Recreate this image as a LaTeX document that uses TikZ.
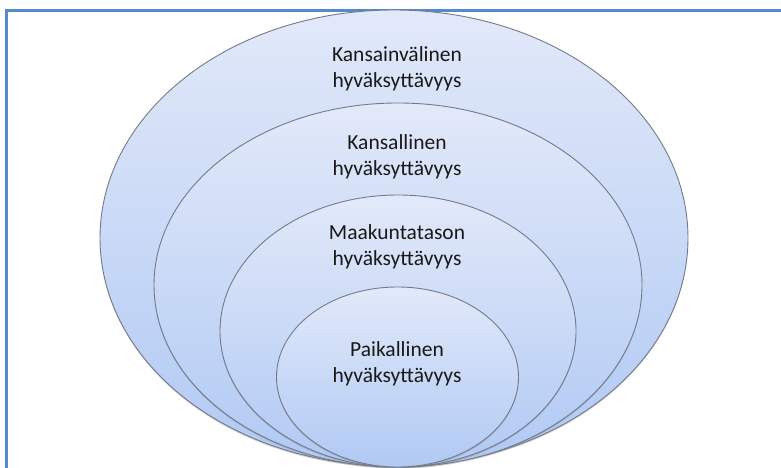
\documentclass[tikz,border=0pt]{standalone}
\usepackage{fontspec}
\setmainfont{Carlito}
\usetikzlibrary{shadows}
\definecolor{framec}{RGB}{84,138,210}
\definecolor{edgec}{RGB}{115,123,138}
\definecolor{topc}{RGB}{226,233,249}
\definecolor{botc}{RGB}{176,201,244}
\begin{document}
\begin{tikzpicture}[x=1pt,y=-1pt,
  ring/.style={draw=edgec, line width=0.9pt, top color=topc, bottom color=botc,
    drop shadow={shadow xshift=0pt, shadow yshift=-1.5pt, opacity=0.35}},
  lbl/.style={align=center, font=\fontsize{21.5}{26.5}\selectfont, text=black!90}]
\useasboundingbox (0,0) rectangle (781,468);
\draw[framec, line width=2.2pt] (6.5,468) -- (6.5,10.5) -- (781,10.5);
\path[ring] (394,238) ellipse [x radius=294pt, y radius=228pt];
\path[ring] (398,285) ellipse [x radius=244pt, y radius=182pt];
\path[ring] (398,331) ellipse [x radius=178pt, y radius=136pt];
\path[ring] (397.5,377) ellipse [x radius=121pt, y radius=90pt];
\node[lbl] (intl) at (397,69) {Kansainvälinen\\hyväksyttävyys};
\node[lbl] (natl) at (397,157) {Kansallinen\\hyväksyttävyys};
\node[lbl] (regl) at (397,247) {Maakuntatason\\hyväksyttävyys};
\node[lbl] (locl) at (397,364) {Paikallinen\\hyväksyttävyys};
\end{tikzpicture}
\end{document}
